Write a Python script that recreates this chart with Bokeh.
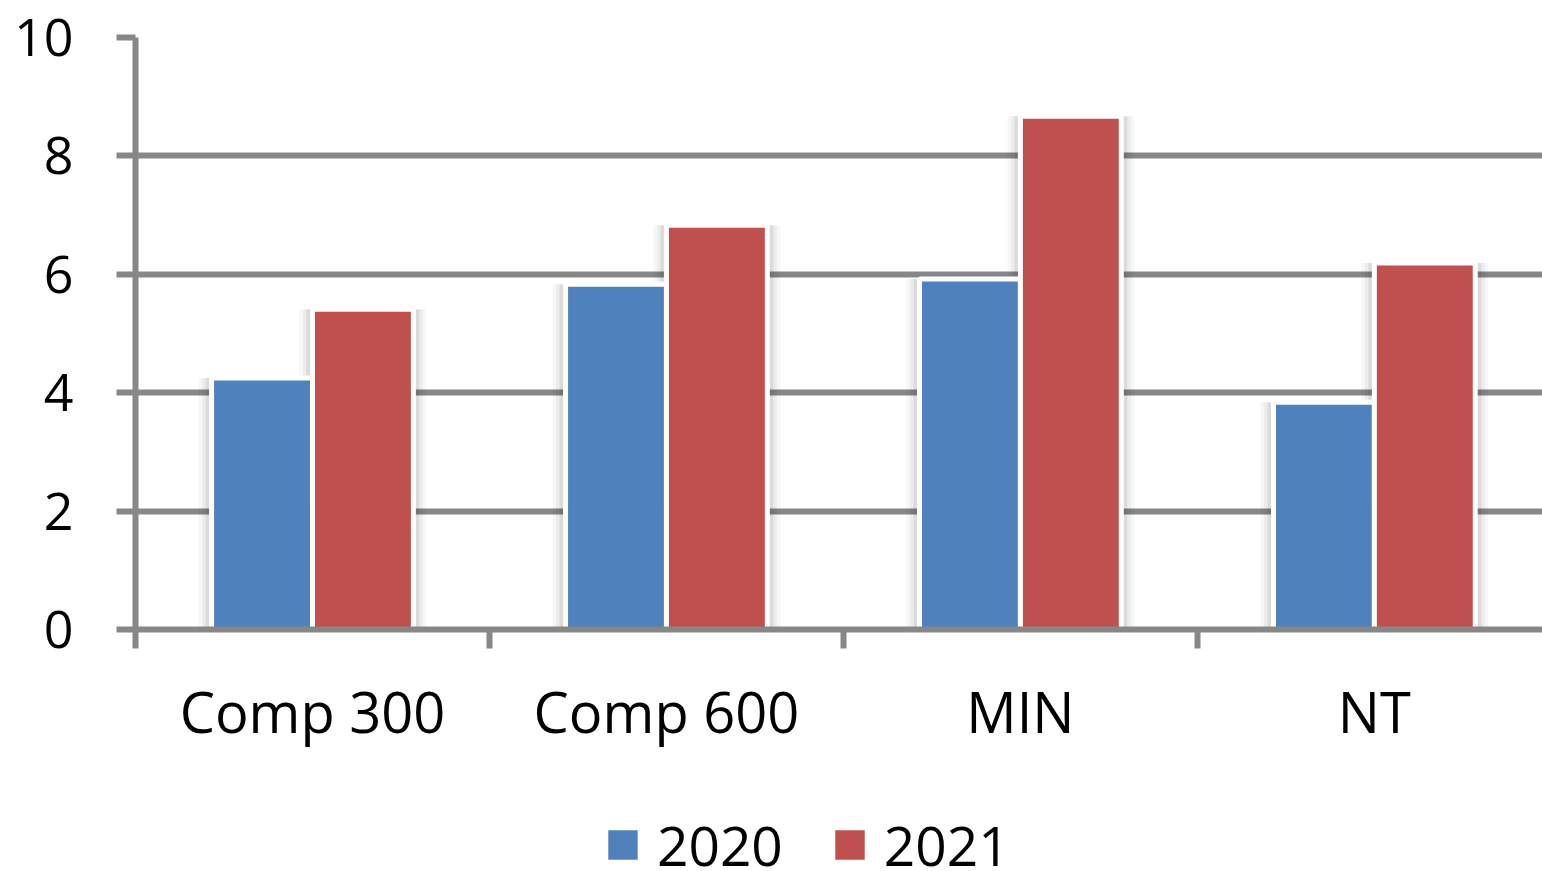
from bokeh.plotting import figure
from bokeh.layouts import column
from bokeh.models import (Range1d, LinearAxis, FixedTicker, Legend, LegendItem,
                          ColumnDataSource, Grid)
from bokeh.embed import file_html
from bokeh.resources import INLINE

# ---- data ----
categories = ["Comp 300", "Comp 600", "MIN", "NT"]
years = ["2020", "2021"]
values_2020 = [4.25, 5.83, 5.92, 3.84]
values_2021 = [5.41, 6.83, 8.67, 6.19]
y_ticks = [0, 2, 4, 6, 8, 10]

colors = {"2020": "#4F81BD", "2021": "#C0504D"}
axis_gray = "#878787"
font = "Open Sans"

W, H = 1542, 871
LEGEND_H = 95

bar_w = 0.285          # bar width in category units (incl. white rim)
offset = bar_w / 2

centers = [i + 0.5 for i in range(len(categories))]
src_2020 = ColumnDataSource(dict(x=[c - offset for c in centers], top=values_2020))
src_2021 = ColumnDataSource(dict(x=[c + offset for c in centers], top=values_2021))

p = figure(width=W, height=H - LEGEND_H,
           x_range=Range1d(0, 3.975), y_range=Range1d(0, 10),
           x_axis_type=None, y_axis_type=None,
           output_backend="svg", toolbar_location=None,
           min_border_left=135, min_border_right=0,
           min_border_top=37, min_border_bottom=H - LEGEND_H - 629)
p.outline_line_color = None
p.background_fill_color = "white"
p.border_fill_color = "white"

# horizontal grid
p.add_layout(Grid(dimension=1, ticker=FixedTicker(ticks=y_ticks),
                  grid_line_color=axis_gray, grid_line_width=6))

# soft shadow behind each bar
for src in (src_2020, src_2021):
    for extra_px, a in [(26, 0.03), (19, 0.045), (12, 0.07)]:
        p.vbar(x="x", top="top", bottom=0, width=bar_w + extra_px / 354.0,
               source=src, fill_color="black", fill_alpha=a, line_color=None)

bar_style = dict(bottom=0, width=bar_w, line_color="white", line_width=5)
r2020 = p.vbar(x="x", top="top", source=src_2020, fill_color=colors["2020"], **bar_style)
r2021 = p.vbar(x="x", top="top", source=src_2021, fill_color=colors["2021"], **bar_style)

# y axis
yaxis = LinearAxis(ticker=FixedTicker(ticks=y_ticks),
                   axis_line_color=axis_gray, axis_line_width=6,
                   major_tick_line_color=axis_gray, major_tick_line_width=6,
                   major_tick_out=19, major_tick_in=0,
                   minor_tick_out=0, minor_tick_in=0,
                   major_label_standoff=43,
                   major_label_text_font=font,
                   major_label_text_font_size="52px",
                   major_label_text_color="black")
p.add_layout(yaxis, "left")

# x axis: labels at category centres, tick marks at category boundaries
label_map = {c: name for c, name in zip(centers, categories)}
xaxis = LinearAxis(ticker=FixedTicker(ticks=centers,
                                      minor_ticks=list(range(len(categories) + 1))),
                   axis_line_color=axis_gray, axis_line_width=6,
                   major_tick_line_color=None, major_tick_out=0, major_tick_in=0,
                   minor_tick_line_color=axis_gray, minor_tick_line_width=6,
                   minor_tick_out=19, minor_tick_in=0,
                   major_label_overrides=label_map,
                   major_label_standoff=24,
                   major_label_text_font=font,
                   major_label_text_font_size="56px",
                   major_label_text_color="black")
p.add_layout(xaxis, "below")

# legend strip under the chart (its frame lines up with the chart frame)
lg = figure(width=W, height=LEGEND_H, x_range=Range1d(0, 1), y_range=Range1d(0, 1),
            x_axis_type=None, y_axis_type=None,
            output_backend="svg", toolbar_location=None,
            min_border=0, outline_line_color=None)
lg.grid.visible = False
lg.background_fill_color = "white"
lg.border_fill_color = "white"
# zero-height swatch renderers: only their legend glyphs are visible
swatch = ColumnDataSource(dict(x=[0.5], top=[0]))
swatch_style = dict(bottom=0, width=bar_w, line_color="white", line_width=5)
k2020 = lg.vbar(x="x", top="top", source=swatch, fill_color=colors["2020"], **swatch_style)
k2021 = lg.vbar(x="x", top="top", source=swatch, fill_color=colors["2021"], **swatch_style)

legend = Legend(items=[LegendItem(label=years[0], renderers=[k2020]),
                       LegendItem(label=years[1], renderers=[k2021])],
                orientation="horizontal", location=(466, -11),
                label_text_font=font, label_text_font_size="55px",
                label_text_color="black",
                glyph_width=43, glyph_height=43,
                label_standoff=13, spacing=45,
                border_line_color=None, background_fill_alpha=0,
                padding=0, margin=0)
lg.add_layout(legend, "center")

layout = column(p, lg, spacing=0)
open("out.html", "w").write(file_html(layout, INLINE))
